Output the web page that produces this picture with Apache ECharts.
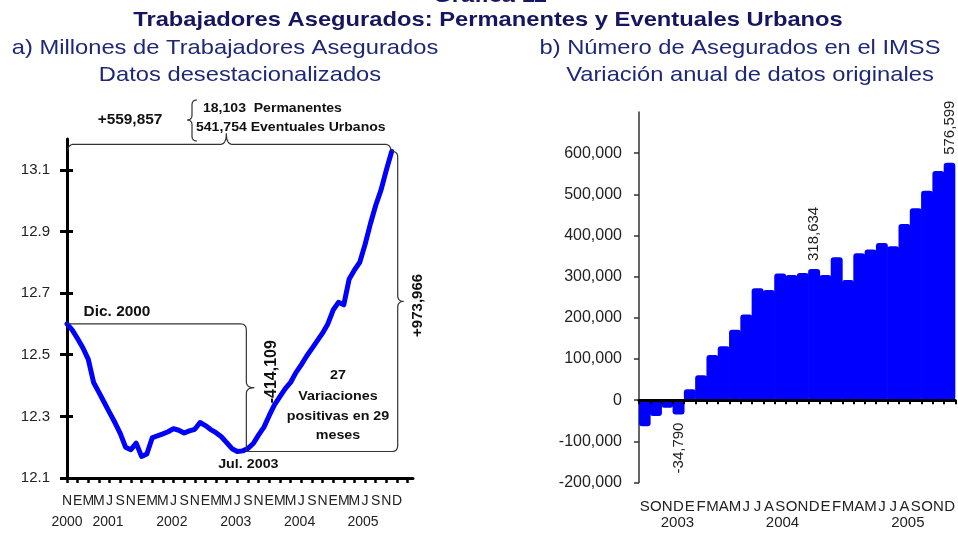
<!DOCTYPE html>
<html>
<head>
<meta charset="utf-8">
<script src="https://cdn.jsdelivr.net/npm/echarts@6/dist/echarts.min.js"></script>
<style>
  html, body { margin: 0; padding: 0; background: #fff; overflow: hidden; }
  #main { width: 958px; height: 533px; }
</style>
</head>
<body>
<div id="main"></div>
<script>
// a) Millones de trabajadores asegurados (desestacionalizados), mensual nov-2000 .. dic-2005
const leftValues = [
  12.600, 12.580, 12.552, 12.522, 12.485, 12.410, 12.378, 12.345, 12.312, 12.280, 12.245, 12.200,
  12.192, 12.213, 12.170, 12.178, 12.230, 12.237, 12.243, 12.250, 12.260, 12.255, 12.246, 12.253,
  12.258, 12.280, 12.270, 12.257, 12.247, 12.234, 12.215, 12.195, 12.186, 12.188, 12.196, 12.212,
  12.240, 12.265, 12.303, 12.338, 12.364, 12.390, 12.410, 12.442, 12.467, 12.495, 12.520, 12.545,
  12.570, 12.600, 12.645, 12.670, 12.662, 12.745, 12.775, 12.800, 12.858, 12.925, 12.985, 13.035,
  13.100, 13.160
];
// etiquetas bimestrales del eje (meses 0, 2, 4, ...)
const leftTickLabels = [
  'N', 'E', 'M', 'M', 'J', 'S',
  'N', 'E', 'M', 'M', 'J', 'S',
  'N', 'E', 'M', 'M', 'J', 'S',
  'N', 'E', 'M', 'M', 'J', 'S',
  'N', 'E', 'M', 'M', 'J', 'S',
  'N', 'D'
];
const leftYears = ['2000', '2001', '2002', '2003', '2004', '2005'];
const leftYTicks = [12.1, 12.3, 12.5, 12.7, 12.9, 13.1];

// b) Variación anual de asegurados, sep-2003 .. dic-2005
const rightCategories = [
  'sep-03', 'oct-03', 'nov-03', 'dic-03',
  'ene-04', 'feb-04', 'mar-04', 'abr-04', 'may-04', 'jun-04', 'jul-04', 'ago-04', 'sep-04', 'oct-04', 'nov-04', 'dic-04',
  'ene-05', 'feb-05', 'mar-05', 'abr-05', 'may-05', 'jun-05', 'jul-05', 'ago-05', 'sep-05', 'oct-05', 'nov-05', 'dic-05'
];
const rightMonthLabels = [
  'S', 'O', 'N', 'D',
  'E', 'F', 'M', 'A', 'M', 'J', 'J', 'A', 'S', 'O', 'N', 'D',
  'E', 'F', 'M', 'A', 'M', 'J', 'J', 'A', 'S', 'O', 'N', 'D'
];
const rightValues = [
  -63000, -38000, -18000, -34790,
  27000, 61000, 110000, 131000, 171000, 208000, 272000, 268000, 308000, 304000, 309000, 318634,
  304000, 347000, 292000, 357000, 366000, 382000, 374000, 428000, 466000, 509000, 557000, 576599
];
const rightLabelled = [3, 15, 27];
const rightYears = ['2003', '2004', '2005'];
const rightYTicks = [-200000, -100000, 0, 100000, 200000, 300000, 400000, 500000, 600000];

// posiciones de las etiquetas de año (en unidades del eje)
const leftYearPos = [0, 7.7, 19.7, 31.7, 43.7, 55.6];
const rightYearPos = [2.9, 12.2, 23.3];
const julIdx = 32;   // jul. 2003
const endIdx = leftValues.length - 1;

const FONT = '"Liberation Sans", Arial, sans-serif';
const leftTickPos = [];
for (let k = 0; k <= 64; k += 2) leftTickPos.push(k);

const nearest = (arr, v) => {
  let best = 0;
  arr.forEach((a, i) => { if (Math.abs(a - v) < Math.abs(arr[best] - v)) best = i; });
  return best;
};
const fmt = v => Math.round(v).toLocaleString('en-US');

const chart = echarts.init(document.getElementById('main'));

const barData = rightValues.map((v, i) => {
  if (!rightLabelled.includes(i)) return v;
  const neg = v < 0;
  return {
    value: v,
    label: {
      show: true,
      position: neg ? 'bottom' : 'top',
      rotate: 90,
      align: neg ? 'right' : 'left',
      verticalAlign: 'middle',
      distance: 8,
      fontSize: 15,
      color: '#222',
      formatter: p => fmt(p.value)
    }
  };
});

const rightGridW = 321;

const option = {
  animation: false,
  textStyle: { fontFamily: FONT },
  grid: [
    { left: 67, top: 139, width: 346, height: 339 },
    { left: 639, top: 112, width: rightGridW, height: 370.6 }
  ],
  xAxis: [
    {
      type: 'value', gridIndex: 0, min: 0, max: 65,
      axisLine: { onZero: false, lineStyle: { color: '#000', width: 3 } },
      axisTick: { show: true, customValues: leftTickPos, length: 5, lineStyle: { color: '#000', width: 2.5 } },
      axisLabel: {
        customValues: leftTickPos.slice(0, leftTickLabels.length),
        formatter: v => leftTickLabels[Math.round(v / 2)],
        margin: 16, fontSize: 14, color: '#222'
      },
      splitLine: { show: false }
    },
    {
      type: 'value', gridIndex: 0, min: 0, max: 65, position: 'bottom',
      axisLine: { show: false, onZero: false }, axisTick: { show: false }, splitLine: { show: false },
      axisLabel: {
        customValues: leftYearPos,
        formatter: v => leftYears[nearest(leftYearPos, v)],
        margin: 37, fontSize: 14, color: '#222'
      }
    },
    {
      type: 'category', gridIndex: 1, data: rightCategories, z: 10,
      axisLine: { onZero: true, lineStyle: { color: '#000', width: 3 } },
      axisTick: { show: true, interval: 0, length: 4, lineStyle: { color: '#000', width: 2 } },
      axisLabel: { show: false }
    },
    {
      type: 'category', gridIndex: 1, data: rightCategories, position: 'bottom',
      axisLine: { show: false, onZero: false }, axisTick: { show: false },
      axisLabel: { interval: 0, formatter: (v, i) => rightMonthLabels[i], margin: 17, fontSize: 15, color: '#222' }
    },
    {
      type: 'value', gridIndex: 1, min: -0.5, max: 27.5, position: 'bottom',
      axisLine: { show: false, onZero: false }, axisTick: { show: false }, splitLine: { show: false },
      axisLabel: {
        customValues: rightYearPos,
        formatter: v => rightYears[nearest(rightYearPos, v)],
        margin: 33, fontSize: 15, color: '#222'
      }
    }
  ],
  yAxis: [
    {
      type: 'value', gridIndex: 0, min: 12.1, max: 13.2, position: 'left',
      axisLine: { show: true, onZero: false, lineStyle: { color: '#000', width: 3 } },
      axisTick: { show: true, customValues: leftYTicks, length: 7, lineStyle: { color: '#000', width: 3 } },
      axisLabel: { customValues: leftYTicks, formatter: v => v.toFixed(1), margin: 17, fontSize: 15, color: '#222' },
      splitLine: { show: false }
    },
    {
      type: 'value', gridIndex: 0, min: 12.1, max: 13.2, position: 'left',
      axisLine: { show: false, onZero: false },
      axisTick: { show: true, inside: true, customValues: leftYTicks, length: 6, lineStyle: { color: '#000', width: 3 } },
      axisLabel: { show: false },
      splitLine: { show: false }
    },
    {
      type: 'value', gridIndex: 1, min: -200000, max: 700000, position: 'left',
      axisLine: { show: true, onZero: false, lineStyle: { color: '#333', width: 1.5 } },
      axisTick: { show: true, customValues: rightYTicks, length: 5, lineStyle: { color: '#333', width: 1.5 } },
      axisLabel: { customValues: rightYTicks, formatter: fmt, margin: 17, fontSize: 16, color: '#222' },
      splitLine: { show: false }
    }
  ],
  series: [
    {
      name: 'Asegurados', type: 'line', xAxisIndex: 0, yAxisIndex: 0,
      data: leftValues.map((v, i) => [i, v]),
      showSymbol: false, z: 5,
      lineStyle: { color: '#0000ff', width: 5, cap: 'round', join: 'round' }
    },
    {
      name: 'Variación anual', type: 'bar', xAxisIndex: 2, yAxisIndex: 2,
      data: barData,
      barWidth: rightGridW / rightCategories.length + 0.5,
      barGap: '0%',
      barCategoryGap: '0%',
      itemStyle: { color: '#0000ff', borderColor: '#0000ff', borderWidth: 0, borderRadius: [3, 3, 3, 3] }
    }
  ]
};
chart.setOption(option);

// ---- anotaciones (llaves y textos), ubicadas con las escalas del gráfico ----
const P = (i, v) => chart.convertToPixel({ xAxisIndex: 0, yAxisIndex: 0 }, [i, v]);
const quad = (p0, c, p1, n = 8) => {
  const out = [];
  for (let k = 1; k <= n; k++) {
    const t = k / n, u = 1 - t;
    out.push([u * u * p0[0] + 2 * u * t * c[0] + t * t * p1[0], u * u * p0[1] + 2 * u * t * c[1] + t * t * p1[1]]);
  }
  return out;
};
// llave horizontal con punta hacia arriba
const hBrace = (x1, x2, y, tipX, r, h) => [
  [x1, y + r], ...quad([x1, y + r], [x1, y], [x1 + r, y]),
  [tipX - r, y], ...quad([tipX - r, y], [tipX, y], [tipX, y - h]),
  ...quad([tipX, y - h], [tipX, y], [tipX + r, y]),
  [x2 - r, y], ...quad([x2 - r, y], [x2, y], [x2, y + r])
];
// llave vertical; d = 1 punta a la derecha, d = -1 a la izquierda
const vBrace = (x, y1, y2, tipY, r, d) => [
  [x - d * r, y1], ...quad([x - d * r, y1], [x, y1], [x, y1 + r]),
  [x, tipY - r], ...quad([x, tipY - r], [x, tipY], [x + d * r, tipY]),
  ...quad([x + d * r, tipY], [x, tipY], [x, tipY + r]),
  [x, y2 - r], ...quad([x, y2 - r], [x, y2], [x - d * r, y2])
];

const s = P(0, leftValues[0]);
const j = P(julIdx, leftValues[julIdx]);
const e = P(endIdx, leftValues[endIdx]);
const r = 6;

const topY = e[1] - 7;
const topBrace = hBrace(s[0] + 1, e[0] - 1, topY, (s[0] + e[0]) / 2 - 3, r, 11);

const bx = j[0] + 9;
const tipL = (s[1] + j[1]) / 2;
const dicBrace = [
  [s[0], s[1]], [bx - r, s[1]], ...quad([bx - r, s[1]], [bx, s[1]], [bx, s[1] + r]),
  [bx, tipL - r], ...quad([bx, tipL - r], [bx, tipL], [bx + 8, tipL]),
  ...quad([bx + 8, tipL], [bx, tipL], [bx, tipL + r]),
  [bx, j[1]]
];
const rx = e[0] + 6;
const tipR = (e[1] + j[1]) / 2;
const rightBrace = [
  [bx, j[1]], [rx - r, j[1]], ...quad([rx - r, j[1]], [rx, j[1]], [rx, j[1] - r]),
  [rx, tipR + r], ...quad([rx, tipR + r], [rx, tipR], [rx + r, tipR]),
  ...quad([rx + r, tipR], [rx, tipR], [rx, tipR - r]),
  [rx, e[1] + r], ...quad([rx, e[1] + r], [rx, e[1]], [rx - r, e[1]])
];
const smallBrace = vBrace(192, 100, 141, 120, 5, -1);

const line = (id, pts) => ({
  type: 'polyline', id, z: 20, silent: true,
  shape: { points: pts },
  style: { stroke: '#333', lineWidth: 1.2, fill: null }
});
const text = (id, str, x, y, font, fill, extra) => Object.assign({
  type: 'text', id, x, y, z: 21, silent: true,
  style: { text: str, font, fill, align: 'center', verticalAlign: 'middle' }
}, extra || {});

const TITLE = '#161660';
const SUB = '#1e2878';
const fTitle = 'bold 21px ' + FONT;
const fSub = '21px ' + FONT;
const fNote = 'bold 14px ' + FONT;
const fNoteS = 'bold 13px ' + FONT;
const sx = { scaleX: 1.13 };

chart.setOption({
  graphic: [
    text('t0', 'Gráfica 11', 490, -4, fTitle, TITLE, sx),
    text('t1', 'Trabajadores Asegurados: Permanentes y Eventuales Urbanos', 488, 20, fTitle, TITLE, sx),
    text('t2', 'a) Millones de Trabajadores Asegurados', 225, 48, fSub, SUB, sx),
    text('t3', 'Datos desestacionalizados', 240, 75, fSub, SUB, sx),
    text('t4', 'b) Número de Asegurados en el IMSS', 740, 48, fSub, SUB, sx),
    text('t5', 'Variación anual de datos originales', 750, 75, fSub, SUB, sx),

    line('b1', topBrace),
    line('b2', dicBrace),
    line('b3', rightBrace),
    line('b4', smallBrace),

    text('n1', '+559,857', 130, 120, fNote, '#111', { scaleX: 1.1 }),
    { type: 'text', id: 'n2', x: 203, y: 108, z: 21, scaleX: 1.08,
      style: { text: '18,103  Permanentes', font: fNoteS, fill: '#111', align: 'left', verticalAlign: 'middle' } },
    { type: 'text', id: 'n3', x: 196, y: 127, z: 21, scaleX: 1.08,
      style: { text: '541,754 Eventuales Urbanos', font: fNoteS, fill: '#111', align: 'left', verticalAlign: 'middle' } },
    text('n4', 'Dic. 2000', s[0] + 50, s[1] - 12, fNote, '#111', { scaleX: 1.1 }),
    text('n5', 'Jul. 2003', j[0] + 11, j[1] + 13, fNoteS, '#111', { scaleX: 1.1 }),
    text('n6', '-414,109', bx + 25, tipL - 16, 'bold 16px ' + FONT, '#111', { rotation: Math.PI / 2 }),
    text('n7', '27', 338, 375, fNoteS, '#111', { scaleX: 1.1 }),
    text('n8', 'Variaciones', 338, 396, fNoteS, '#111', { scaleX: 1.1 }),
    text('n9', 'positivas en 29', 338, 416, fNoteS, '#111', { scaleX: 1.1 }),
    text('n10', 'meses', 338, 435, fNoteS, '#111', { scaleX: 1.1 }),
    text('n11', '+973,966', rx + 20, tipR + 4, 'bold 15px ' + FONT, '#111', { rotation: Math.PI / 2 })
  ]
});
</script>
</body>
</html>
